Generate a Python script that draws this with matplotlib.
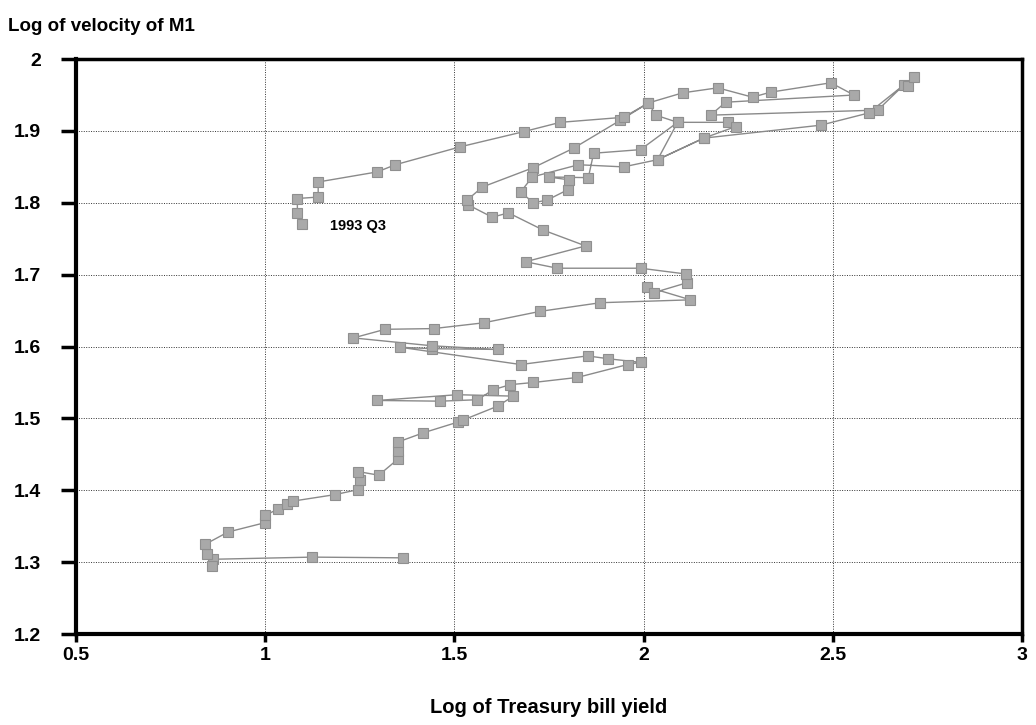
#!/usr/bin/env python3
"""Velocity of M1 against the Treasury bill yield, quarterly path ending 1993 Q3."""
import matplotlib
matplotlib.use("Agg")
import matplotlib.pyplot as plt

# log of Treasury bill yield, quarterly, in path order
log_tbill = [
    1.365, 1.124, 0.862, 0.860, 0.845, 0.842, 0.902, 1.000,
    1.000, 1.034, 1.058, 1.074, 1.185, 1.246, 1.250, 1.246,
    1.300, 1.350, 1.350, 1.350, 1.418, 1.510, 1.524, 1.614,
    1.656, 1.508, 1.296, 1.463, 1.561, 1.603, 1.648, 1.709,
    1.825, 1.958, 1.992, 1.907, 1.852, 1.675, 1.357, 1.442,
    1.614, 1.442, 1.233, 1.317, 1.445, 1.577, 1.727, 1.886,
    2.124, 2.010, 2.027, 2.116, 2.111, 1.992, 1.772, 1.688,
    1.847, 1.735, 1.643, 1.600, 1.537, 1.534, 1.574, 1.709,
    1.815, 1.939, 2.013, 2.103, 2.196, 2.288, 2.336, 2.495,
    2.556, 2.217, 2.177, 2.619, 2.688, 2.700, 2.714, 2.595,
    2.468, 2.159, 2.037, 2.090, 2.222, 2.243, 2.159, 2.037,
    1.947, 1.828, 1.706, 1.675, 1.709, 1.746, 1.799, 1.802,
    1.749, 1.854, 1.868, 1.992, 2.090, 2.032, 2.013, 1.947,
    1.780, 1.683, 1.516, 1.344, 1.296, 1.140, 1.140, 1.085,
    1.085, 1.098,
]
# log of velocity of M1, same quarters
log_velocity = [
    1.306, 1.307, 1.304, 1.295, 1.312, 1.325, 1.342, 1.355,
    1.365, 1.374, 1.381, 1.385, 1.394, 1.401, 1.415, 1.426,
    1.421, 1.443, 1.455, 1.467, 1.480, 1.495, 1.498, 1.517,
    1.531, 1.533, 1.525, 1.524, 1.526, 1.540, 1.547, 1.550,
    1.557, 1.575, 1.578, 1.583, 1.587, 1.575, 1.599, 1.597,
    1.596, 1.601, 1.612, 1.624, 1.625, 1.633, 1.649, 1.661,
    1.665, 1.683, 1.675, 1.689, 1.701, 1.709, 1.709, 1.718,
    1.740, 1.762, 1.786, 1.780, 1.797, 1.804, 1.822, 1.849,
    1.876, 1.915, 1.939, 1.953, 1.960, 1.947, 1.954, 1.967,
    1.950, 1.940, 1.922, 1.929, 1.964, 1.962, 1.975, 1.925,
    1.908, 1.890, 1.860, 1.912, 1.912, 1.906, 1.890, 1.860,
    1.850, 1.853, 1.836, 1.815, 1.800, 1.804, 1.818, 1.832,
    1.836, 1.835, 1.869, 1.874, 1.912, 1.922, 1.939, 1.919,
    1.912, 1.899, 1.878, 1.853, 1.843, 1.829, 1.808, 1.806,
    1.786, 1.770,
]

x_ticks = [0.5, 1, 1.5, 2, 2.5, 3]
y_ticks = [1.2, 1.3, 1.4, 1.5, 1.6, 1.7, 1.8, 1.9, 2.0]
x_tick_labels = ["0.5", "1", "1.5", "2", "2.5", "3"]
y_tick_labels = ["1.2", "1.3", "1.4", "1.5", "1.6", "1.7", "1.8", "1.9", "2"]

plt.rcParams["font.family"] = ["Liberation Sans", "DejaVu Sans"]
plt.rcParams["font.weight"] = "bold"

fig = plt.figure(figsize=(10.36, 7.25), dpi=100)
ax = fig.add_axes([0.0734, 0.1255, 0.913, 0.793])

ax.plot(log_tbill, log_velocity, color="#8a8a8a", lw=1.0, zorder=2)
ax.plot(log_tbill, log_velocity, ls="none", marker="s", ms=7.5,
        mfc="#a9a9a9", mec="#8f8f8f", mew=0.8, zorder=3)

ax.annotate("1993 Q3", xy=(1.17, 1.768), fontsize=10.5, fontweight="bold",
            va="center", ha="left")

ax.set_xlim(0.5, 3.0)
ax.set_ylim(1.2, 2.0)
ax.set_xticks(x_ticks, x_tick_labels)
ax.set_yticks(y_ticks, y_tick_labels)
ax.tick_params(axis="both", labelsize=14, width=2.5, direction="out")
ax.tick_params(axis="y", length=11, pad=14)
ax.tick_params(axis="x", length=6, pad=3)
ax.grid(True, color="#333333", ls=(0, (1, 1.5)), lw=0.7)
ax.set_axisbelow(True)
for side in ["left", "bottom"]:
    ax.spines[side].set_linewidth(3)
for side in ["top", "right"]:
    ax.spines[side].set_linewidth(2.5)

ax.set_xlabel("Log of Treasury bill yield", fontsize=14.5, fontweight="bold",
              labelpad=25)
fig.text(0.008, 0.975, "Log of velocity of M1", fontsize=13.5,
         fontweight="bold", ha="left", va="top")

fig.savefig("out.png", dpi=100)
